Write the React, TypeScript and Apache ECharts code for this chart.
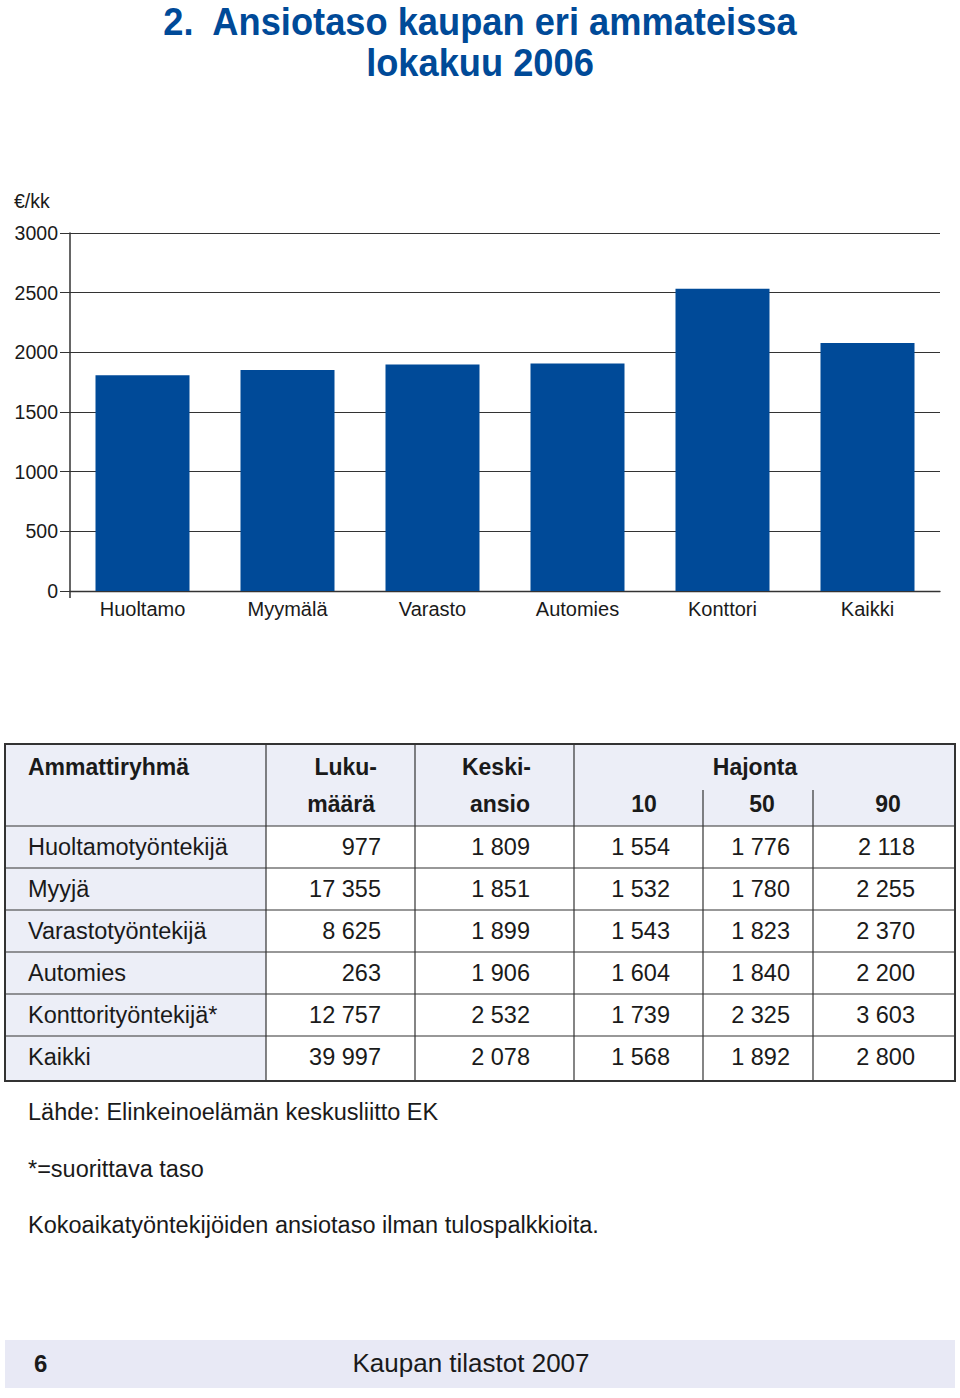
import React, { useEffect, useRef } from "react";
import * as echarts from "echarts";

const categories = ["Huoltamo", "Myymälä", "Varasto", "Automies", "Konttori", "Kaikki"];
const meanPay = [1809, 1851, 1899, 1906, 2532, 2078];

const occupations = ["Huoltamotyöntekijä", "Myyjä", "Varastotyöntekijä", "Automies", "Konttorityöntekijä*", "Kaikki"];
const counts = [977, 17355, 8625, 263, 12757, 39997];
const p10 = [1554, 1532, 1543, 1604, 1739, 1568];
const p50 = [1776, 1780, 1823, 1840, 2325, 1892];
const p90 = [2118, 2255, 2370, 2200, 3603, 2800];

const yTicks = [0, 500, 1000, 1500, 2000, 2500, 3000];
const notes = [
  "Lähde: Elinkeinoelämän keskusliitto EK",
  "*=suorittava taso",
  "Kokoaikatyöntekijöiden ansiotaso ilman tulospalkkioita.",
];

const FONT = "'Liberation Sans', Arial, sans-serif";
const BLUE = "#004a98";
const TEXT = "#1a1a1a";
const LINE = "#333";
const HEAD_BG = "#eceef7";

function fmt(n: number): string {
  const s = String(n);
  return s.replace(/\B(?=(\d{3})+(?!\d))/g, " ");
}

export default function App() {
  const ref = useRef<HTMLDivElement>(null);
  useEffect(() => {
    if (!ref.current) return;
    const chart = echarts.init(ref.current, undefined, { renderer: "svg" });

    const g: any[] = [];
    const txt = (x: number, y: number, text: string, o: any = {}) =>
      g.push({
        type: "text",
        x,
        y,
        scaleX: o.scaleX || 1,
        style: {
          text,
          fontFamily: FONT,
          fontSize: o.size || 23.5,
          fontWeight: o.bold ? "bold" : "normal",
          fill: o.color || TEXT,
          align: o.align || "left",
          verticalAlign: "middle",
        },
        z: 10,
      });
    const hline = (x1: number, x2: number, y: number, w = 1) =>
      g.push({ type: "line", shape: { x1, y1: y, x2, y2: y }, style: { stroke: LINE, lineWidth: w }, z: 5 });
    const vline = (x: number, y1: number, y2: number, w = 1) =>
      g.push({ type: "line", shape: { x1: x, y1, x2: x, y2 }, style: { stroke: LINE, lineWidth: w }, z: 5 });

    // Title
    txt(480, 22, "2.  Ansiotaso kaupan eri ammateissa", { size: 39, bold: true, color: BLUE, align: "center", scaleX: 0.93 });
    txt(480, 63, "lokakuu 2006", { size: 39, bold: true, color: BLUE, align: "center", scaleX: 0.93 });
    txt(14, 201, "€/kk", { size: 19.5 });

    // small extension of y axis below zero
    vline(70, 591, 598, 1.5);

    // Table
    const tTop = 744, hBot = 826, rowH = 42, tBot = 1081;
    const tL = 5, tR = 955;
    const cols = [266, 415, 574];
    const sub = [703, 813];
    g.push({ type: "rect", shape: { x: tL, y: tTop, width: tR - tL, height: hBot - tTop }, style: { fill: HEAD_BG }, z: 1 });
    g.push({ type: "rect", shape: { x: tL, y: hBot, width: cols[0] - tL, height: tBot - hBot }, style: { fill: HEAD_BG }, z: 1 });
    g.push({ type: "rect", shape: { x: tL, y: tTop, width: tR - tL, height: tBot - tTop }, style: { fill: "none", stroke: LINE, lineWidth: 2 }, z: 6 });
    hline(tL, tR, hBot, 1.2);
    for (let i = 1; i < occupations.length; i++) hline(tL, tR, hBot + rowH * i, 1.2);
    cols.forEach((x) => vline(x, tTop, tBot, 1.2));
    sub.forEach((x) => vline(x, 790, tBot, 1.2));

    const hs = 23;
    txt(28, 767, "Ammattiryhmä", { bold: true, size: hs });
    txt(377, 767, "Luku-", { bold: true, align: "right", size: hs });
    txt(375, 804, "määrä", { bold: true, align: "right", size: hs });
    txt(531, 767, "Keski-", { bold: true, align: "right", size: hs });
    txt(530, 804, "ansio", { bold: true, align: "right", size: hs });
    txt(755, 767, "Hajonta", { bold: true, align: "center", size: hs });
    txt(644, 804, "10", { bold: true, align: "center", size: hs });
    txt(762, 804, "50", { bold: true, align: "center", size: hs });
    txt(888, 804, "90", { bold: true, align: "center", size: hs });

    const rights = [381, 530, 670, 790, 915];
    occupations.forEach((name, i) => {
      const y = 847 + rowH * i;
      txt(28, y, name);
      [counts[i], meanPay[i], p10[i], p50[i], p90[i]].forEach((v, j) => txt(rights[j], y, fmt(v), { align: "right" }));
    });

    notes.forEach((n, i) => txt(28, [1112, 1169, 1225][i], n));

    // Footer bar
    g.push({ type: "rect", shape: { x: 5, y: 1340, width: 950, height: 48 }, style: { fill: "#e8e9f5" }, z: 1 });
    txt(34, 1363, "6", { size: 24, bold: true });
    txt(471, 1363, "Kaupan tilastot 2007", { size: 26, align: "center" });

    chart.setOption({
      animation: false,
      backgroundColor: "#fff",
      grid: { left: 70, top: 233, width: 870, height: 358, containLabel: false },
      xAxis: {
        type: "category",
        data: categories,
        axisLine: { show: true, lineStyle: { color: LINE, width: 1.3 } },
        axisTick: { show: false },
        axisLabel: { color: TEXT, fontFamily: FONT, fontSize: 20, margin: 8 },
      },
      yAxis: {
        type: "value",
        min: 0,
        max: 3000,
        interval: 500,
        axisLine: { show: true, lineStyle: { color: LINE, width: 1.5 } },
        axisTick: { show: true, length: 10, lineStyle: { color: LINE, width: 1 } },
        axisLabel: { color: TEXT, fontFamily: FONT, fontSize: 19.5, margin: 12, formatter: (v: number) => (yTicks.includes(v) ? String(v) : "") },
        splitLine: { show: true, lineStyle: { color: LINE, width: 1.2 } },
      },
      series: [
        {
          type: "bar",
          data: meanPay,
          barWidth: 94,
          itemStyle: { color: BLUE },
        },
      ],
      graphic: g,
    });
    return () => chart.dispose();
  }, []);
  return <div ref={ref} style={{ position: "absolute", left: 0, top: 0, width: 960, height: 1398 }} />;
}
